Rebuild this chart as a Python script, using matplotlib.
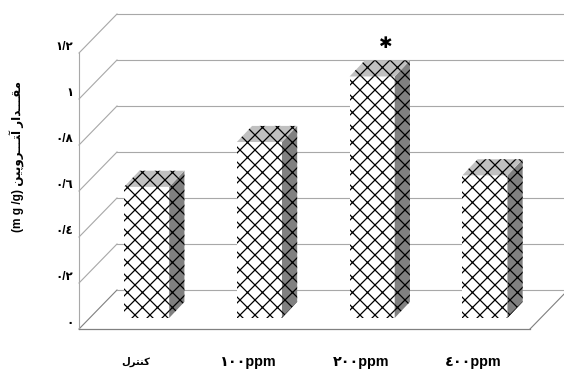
import matplotlib
matplotlib.use("Agg")
import matplotlib.pyplot as plt
from matplotlib.patches import Polygon

categories = ["\uFEDD\uFEAE\uFE98\uFEE8\uFB90", "\u0661\u0660\u0660ppm", "\u0662\u0660\u0660ppm", "\u0664\u0660\u0660ppm"]
values = [0.57, 0.765, 1.05, 0.62]
yticks = [0, 0.2, 0.4, 0.6, 0.8, 1.0, 1.2]
ytick_labels = ["\u0660", "\u0660/\u0662", "\u0660/\u0664", "\u0660/\u0666", "\u0660/\u0668", "\u0661", "\u0661/\u0662"]
ylabel = "(m g /g) \uFEE6\uFBFF\uFB58\uFEED\uFEAE\u0640\u0640\u0640\uFE98\uFE81 \uFEAD\uFE8D\uFEAA\u0640\u0640\u0640\uFED8\uFEE3"

W, H, DPI = 564, 374, 90
plt.rcParams["hatch.linewidth"] = 1.0
plt.rcParams["font.family"] = ["Liberation Sans", "DejaVu Sans"]
fig = plt.figure(figsize=(W / DPI, H / DPI), dpi=DPI)
ax = fig.add_axes([79 / W, 1 - 329 / H, 451 / W, 276 / H])
ax.set_xlim(0, 4)
ax.set_ylim(0, 1.2)
ax.axis("off")

DX, DY = 38 / 112.75, 39 / 230
GRID = "#a8a8a8"
XR = 4.4

for t, lab in zip(yticks, ytick_labels):
    ax.plot([0, DX], [t, t + DY], color=GRID if t else "#808080", lw=0.9, clip_on=False, zorder=1)
    ax.plot([DX, XR], [t + DY, t + DY], color=GRID, lw=0.9, clip_on=False, zorder=1)
    ax.text(-0.05, t + 0.025, lab, ha="right", va="center", fontsize=9.5, fontweight="bold", clip_on=False)
ax.plot([0, 0], [0, 1.2], color=GRID, lw=0.9, clip_on=False, zorder=1)
ax.plot([0, 4], [0, 0], color="#808080", lw=1.0, clip_on=False, zorder=1)
ax.plot([4, 4 + DX], [0, DY], color="#808080", lw=0.9, clip_on=False, zorder=1)

BW, SX, SY = 0.4, 0.135, 0.07
FX, FY = 0.1, 0.048
for i, v in enumerate(values):
    x0 = i + 0.5 - BW / 2 + FX
    x1 = x0 + BW
    y0, y1 = FY, FY + v
    ax.add_patch(Polygon([(x0, y0), (x1, y0), (x1, y1), (x0, y1)], facecolor="white", edgecolor="black", hatch="xx", lw=0, zorder=3, clip_on=False))
    ax.add_patch(Polygon([(x1, y0), (x1 + SX, y0 + SY), (x1 + SX, y1 + SY), (x1, y1)], facecolor="#808080", edgecolor="black", hatch="xx", lw=0, zorder=3, clip_on=False))
    ax.add_patch(Polygon([(x0, y1), (x1, y1), (x1 + SX, y1 + SY), (x0 + SX, y1 + SY)], facecolor="#c0c0c0", edgecolor="black", hatch="xx", lw=0, zorder=3, clip_on=False))
    ax.text(i + 0.5, -0.145, categories[i], ha="center", va="center", fontsize=8 if i == 0 else 11.5, fontweight="bold", clip_on=False)

ax.text(2.72, 1.243, "\u2731", ha="center", va="center", fontsize=13, fontweight="bold", family="DejaVu Sans", clip_on=False)
ax.text(-0.55, 0.75, ylabel, rotation=90, ha="center", va="center", fontsize=9.5, fontweight="bold", clip_on=False)

fig.savefig("out.png", dpi=DPI)
